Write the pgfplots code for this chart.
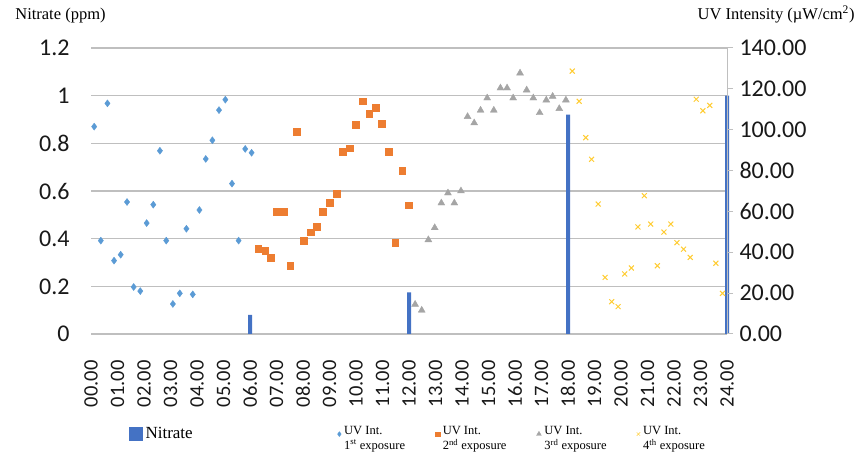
\documentclass[border=0pt]{standalone}
\usepackage{fontspec}
\setmainfont{Liberation Serif}
\newfontfamily\calibri{Carlito}
\newfontfamily\timesfont{Liberation Serif}
\usepackage{pgfplots}
\pgfplotsset{compat=1.18}

\definecolor{nitrate}{HTML}{4472C4}
\definecolor{uvone}{HTML}{5B9BD5}
\definecolor{uvtwo}{HTML}{ED7D31}
\definecolor{uvthree}{HTML}{A5A5A5}
\definecolor{uvfour}{HTML}{FFCC33}
\definecolor{gridgray}{HTML}{BFBFBF}

\newcommand\ticks{\calibri\fontsize{20.5bp}{24bp}\selectfont}
\newcommand\yticks{\calibri\fontsize{24bp}{28bp}\selectfont}
\newcommand\uvint[1]{\begin{tabular}{@{}l@{}}UV Int.\\#1 exposure\end{tabular}}

\begin{document}
\begin{tikzpicture}[x=1bp,y=1bp]
\path[use as bounding box] (0,0) rectangle (861,456);

% left axis: nitrate bars
\begin{axis}[
  at={(91bp,122bp)}, anchor=south west,
  scale only axis, width=636bp, height=286bp,
  xmin=0, xmax=24, ymin=0, ymax=1.2,
  enlargelimits=false,
  clip=false,
  axis line style={draw=none},
  major tick length=0pt,
  xtick={0,1,...,24},
  xticklabels={00.00,01.00,02.00,03.00,04.00,05.00,06.00,07.00,08.00,09.00,10.00,11.00,12.00,
    13.00,14.00,15.00,16.00,17.00,18.00,19.00,20.00,21.00,22.00,23.00,24.00},
  xticklabel style={rotate=90, anchor=east, font=\ticks, text=black!90},
  xticklabel shift=23bp,
  ytick={0,0.2,0.4,0.6,0.8,1,1.2},
  yticklabels={0,0.2,0.4,0.6,0.8,1,1.2},
  yticklabel style={font=\yticks, text=black!90},
  yticklabel shift=18bp,
  ymajorgrids,
  grid style={draw=gridgray, line width=1.3bp},
  ylabel={Nitrate (ppm)},
  every axis y label/.style={at={(axis description cs:-0.1245,1.098)}, anchor=base west,
    font=\timesfont\fontsize{16.5bp}{19bp}\selectfont},
  ybar, bar width=4bp,
]
\addplot[fill=nitrate, draw=none]
  coordinates {(6,0.08) (12,0.175) (18,0.92) (24,1.0)};
\end{axis}

% right axis: UV intensity, and the legend for both
\begin{axis}[
  at={(91bp,122bp)}, anchor=south west,
  scale only axis, width=636bp, height=286bp,
  xmin=0, xmax=24, ymin=0, ymax=140,
  enlargelimits=false,
  axis x line=none,
  axis y line*=right,
  y axis line style={draw=gridgray, line width=1bp},
  ytick={0,20,...,140},
  tick align=outside,
  major tick length=6bp,
  ytick style={draw=gridgray, line width=1bp},
  scaled y ticks=false,
  /pgf/number format/assume math mode=true,
  yticklabel style={font=\yticks, text=black!90,
    /pgf/number format/.cd, fixed, fixed zerofill, precision=2},
  yticklabel shift=3bp,
  ylabel={UV Intensity (µW/cm\textsuperscript{2})},
  every axis y label/.style={at={(axis description cs:1.206,1.098)}, anchor=base east,
    font=\timesfont\fontsize{16.5bp}{19bp}\selectfont},
  legend columns=5,
  legend style={draw=none, fill=none, at={(axis description cs:0.0597,-0.35)}, anchor=west,
    inner sep=0pt, font=\timesfont\fontsize{12.5bp}{14.5bp}\selectfont,
    /tikz/every even column/.append style={column sep=28bp},
    /tikz/every odd column/.append style={column sep=1bp}},
  legend image code/.code={\draw[mark repeat=2,mark phase=2,#1,mark options={scale=0.7}]
    plot coordinates {(0bp,0bp)(2.5bp,0bp)(5bp,0bp)};},
]
\addlegendimage{legend image code/.code={\fill[nitrate] (0bp,-6.5bp) rectangle (13bp,6.5bp);}}
\addlegendentry{\fontsize{17bp}{20bp}\selectfont\makebox[162bp][l]{Nitrate}}
% 1st exposure
\addplot[only marks, mark=diamond*, mark size=3.5bp, color=uvone]
  coordinates {
  (0.12,101.5) (0.37,45.7) (0.62,112.9) (0.87,35.9) (1.12,38.8) (1.36,64.6)
  (1.61,23.0) (1.86,21.0) (2.10,54.3) (2.35,63.3) (2.60,89.7) (2.84,45.7)
  (3.09,14.7) (3.35,19.9) (3.60,51.5) (3.84,19.4) (4.09,60.7) (4.33,85.7)
  (4.58,94.8) (4.83,109.6) (5.07,114.7) (5.32,73.6) (5.57,45.7) (5.82,90.6)
  (6.06,88.7)};
\addlegendentry{\uvint{1\textsuperscript{st}}}
% 2nd exposure
\addplot[only marks, mark=square*, mark size=3.4bp, color=uvtwo]
  coordinates {
  (6.31,41.6) (6.57,40.8) (6.78,37.5) (7.01,59.7) (7.26,59.7) (7.52,33.6)
  (7.76,99.0) (8.03,45.7) (8.28,49.8) (8.53,52.4) (8.75,59.7) (9.01,64.1)
  (9.26,68.7) (9.51,89.2) (9.75,90.9) (10.00,102.4) (10.25,114.0) (10.50,108.0)
  (10.75,110.8) (10.98,103.1) (11.23,89.2) (11.48,44.7) (11.74,79.8) (11.98,63.0)};
\addlegendentry{\uvint{2\textsuperscript{nd}}}
% 3rd exposure
\addplot[only marks, mark=triangle*, mark size=4bp, color=uvthree]
  coordinates {
  (12.23,14.5) (12.48,11.6) (12.73,46.1) (12.97,52.0) (13.22,64.1) (13.47,69.0)
  (13.71,64.1) (13.96,70.0) (14.21,106.4) (14.46,103.3) (14.70,109.5) (14.95,115.5)
  (15.20,109.5) (15.45,120.4) (15.70,120.4) (15.93,115.5) (16.19,127.7) (16.44,119.4)
  (16.69,115.5) (16.93,108.3) (17.18,114.5) (17.42,116.3) (17.67,110.3) (17.92,114.5)};
\addlegendentry{\uvint{3\textsuperscript{rd}}}
% 4th exposure
\addplot[only marks, mark=x, mark size=3.5bp, color=uvfour, mark options={line width=1bp}]
  coordinates {
  (18.16,128.7) (18.42,113.9) (18.67,96.1) (18.89,85.5) (19.14,63.6) (19.40,27.7)
  (19.65,15.8) (19.89,13.4) (20.14,29.4) (20.39,32.3) (20.64,52.4) (20.88,67.7)
  (21.12,53.8) (21.37,33.4) (21.62,49.9) (21.88,53.8) (22.11,44.7) (22.36,41.5)
  (22.61,37.5) (22.84,114.9) (23.09,109.3) (23.35,111.9) (23.58,34.6) (23.83,19.9)};
\addlegendentry{\uvint{4\textsuperscript{th}}}
\end{axis}
\end{tikzpicture}
\end{document}
